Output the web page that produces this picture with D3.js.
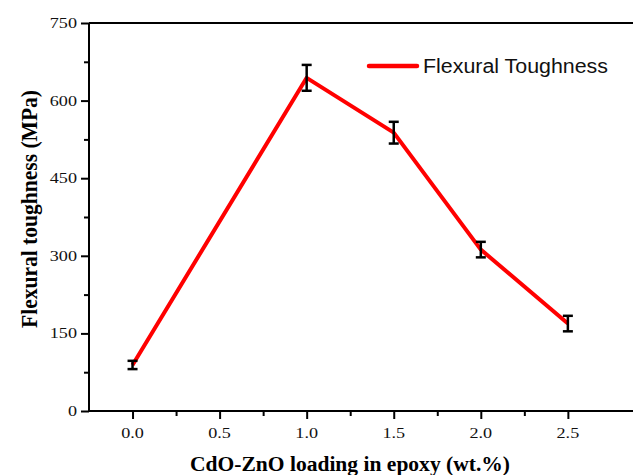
<!DOCTYPE html>
<html>
<head>
<meta charset="utf-8">
<script src="https://cdn.jsdelivr.net/npm/d3@7"></script>
<style>
  body { margin: 0; background: #fff; }
  svg { display: block; }
</style>
</head>
<body>
<svg id="chart" width="633" height="475"></svg>
<script>
const loading = [0.0, 1.0, 1.5, 2.0, 2.5];
const toughness = [89, 644, 538, 312, 169];
const errors = [8, 25, 21, 15, 15];
const xTicks = [0.0, 0.5, 1.0, 1.5, 2.0, 2.5];
const xMinorTicks = [0.25, 0.75, 1.25, 1.75, 2.25];
const yTicks = [0, 150, 300, 450, 600, 750];
const yMinorTicks = [75, 225, 375, 525, 675];
const seriesName = "Flexural Toughness";
const xTitle = "CdO-ZnO loading in epoxy (wt.%)";
const yTitle = "Flexural toughness (MPa)";

(function () {
const svg = d3.select("#chart");
const pLeft = 89, pRight = 633, pTop = 23, pBottom = 411;
const x = d3.scaleLinear().domain([-0.25, 2.874]).range([pLeft, pRight]);
const y = d3.scaleLinear().domain([0, 750]).range([pBottom, pTop]);
const serif = "'Liberation Serif', 'Times New Roman', serif";
const sx = 1.17;

// top border
svg.append("line").attr("x1", pLeft).attr("x2", pRight).attr("y1", pTop).attr("y2", pTop)
  .attr("stroke", "#000").attr("stroke-width", 2);

// x axis
const xAxis = svg.append("g").attr("transform", `translate(0,${pBottom})`);
xAxis.call(d3.axisBottom(x).tickValues(xTicks).tickSize(8).tickFormat(() => ""));
xAxis.select(".domain").attr("stroke-width", 2).attr("d", `M${pLeft},0H${pRight}`);
xAxis.selectAll(".tick line").attr("stroke-width", 2);
const xMinor = svg.append("g").attr("transform", `translate(0,${pBottom})`);
xMinor.call(d3.axisBottom(x).tickValues(xMinorTicks).tickSize(5).tickFormat(() => ""));
xMinor.select(".domain").remove();
xMinor.selectAll(".tick line").attr("stroke-width", 2);
xTicks.forEach(v => {
  svg.append("text")
    .attr("transform", `translate(${x(v)},${pBottom + 27}) scale(${sx},1)`)
    .attr("text-anchor", "middle")
    .attr("font-family", serif).attr("font-size", 15.5).attr("fill", "#111")
    .text(d3.format(".1f")(v));
});

// y axis
const yAxis = svg.append("g").attr("transform", `translate(${pLeft},0)`);
yAxis.call(d3.axisLeft(y).tickValues(yTicks).tickSize(8).tickFormat(() => ""));
yAxis.select(".domain").attr("stroke-width", 2).attr("d", `M0,${pBottom}V${pTop}`);
yAxis.selectAll(".tick line").attr("stroke-width", 2);
const yMinor = svg.append("g").attr("transform", `translate(${pLeft},0)`);
yMinor.call(d3.axisLeft(y).tickValues(yMinorTicks).tickSize(5).tickFormat(() => ""));
yMinor.select(".domain").remove();
yMinor.selectAll(".tick line").attr("stroke-width", 2);
yTicks.forEach(v => {
  svg.append("text")
    .attr("transform", `translate(${pLeft - 12},${y(v) + 5}) scale(${sx},1)`)
    .attr("text-anchor", "end")
    .attr("font-family", serif).attr("font-size", 15.5).attr("fill", "#111")
    .text(v);
});

// line
const pts = loading.map((d, i) => ({ x: d, y: toughness[i], e: errors[i] }));
svg.append("path").datum(pts)
  .attr("d", d3.line().x(d => x(d.x)).y(d => y(d.y)))
  .attr("fill", "none").attr("stroke", "#ff0000").attr("stroke-width", 4)
  .attr("stroke-linejoin", "round");

// error bars
const eb = svg.append("g").attr("stroke", "#000").attr("stroke-width", 2.5);
pts.forEach(d => {
  const cx = x(d.x);
  eb.append("line").attr("x1", cx).attr("x2", cx).attr("y1", y(d.y - d.e)).attr("y2", y(d.y + d.e));
  eb.append("line").attr("x1", cx - 5).attr("x2", cx + 5).attr("y1", y(d.y - d.e)).attr("y2", y(d.y - d.e));
  eb.append("line").attr("x1", cx - 5).attr("x2", cx + 5).attr("y1", y(d.y + d.e)).attr("y2", y(d.y + d.e));
});

// legend
svg.append("line").attr("x1", 369).attr("x2", 417).attr("y1", 66).attr("y2", 66)
  .attr("stroke", "#ff0000").attr("stroke-width", 4.5).attr("stroke-linecap", "round");
svg.append("text").attr("x", 423).attr("y", 73)
  .attr("font-family", "'Liberation Sans', Arial, sans-serif").attr("font-size", 19.5)
  .attr("fill", "#111")
  .attr("textLength", 185).attr("lengthAdjust", "spacingAndGlyphs")
  .text(seriesName);

// axis titles
svg.append("text").attr("x", 190).attr("y", 471)
  .attr("font-family", serif).attr("font-weight", "bold").attr("font-size", 20.5)
  .attr("textLength", 320).attr("lengthAdjust", "spacingAndGlyphs")
  .text(xTitle);
svg.append("text")
  .attr("transform", "translate(37,328) rotate(-90)")
  .attr("font-family", serif).attr("font-weight", "bold").attr("font-size", 24)
  .attr("textLength", 238).attr("lengthAdjust", "spacingAndGlyphs")
  .text(yTitle);
})();
</script>
</body>
</html>
